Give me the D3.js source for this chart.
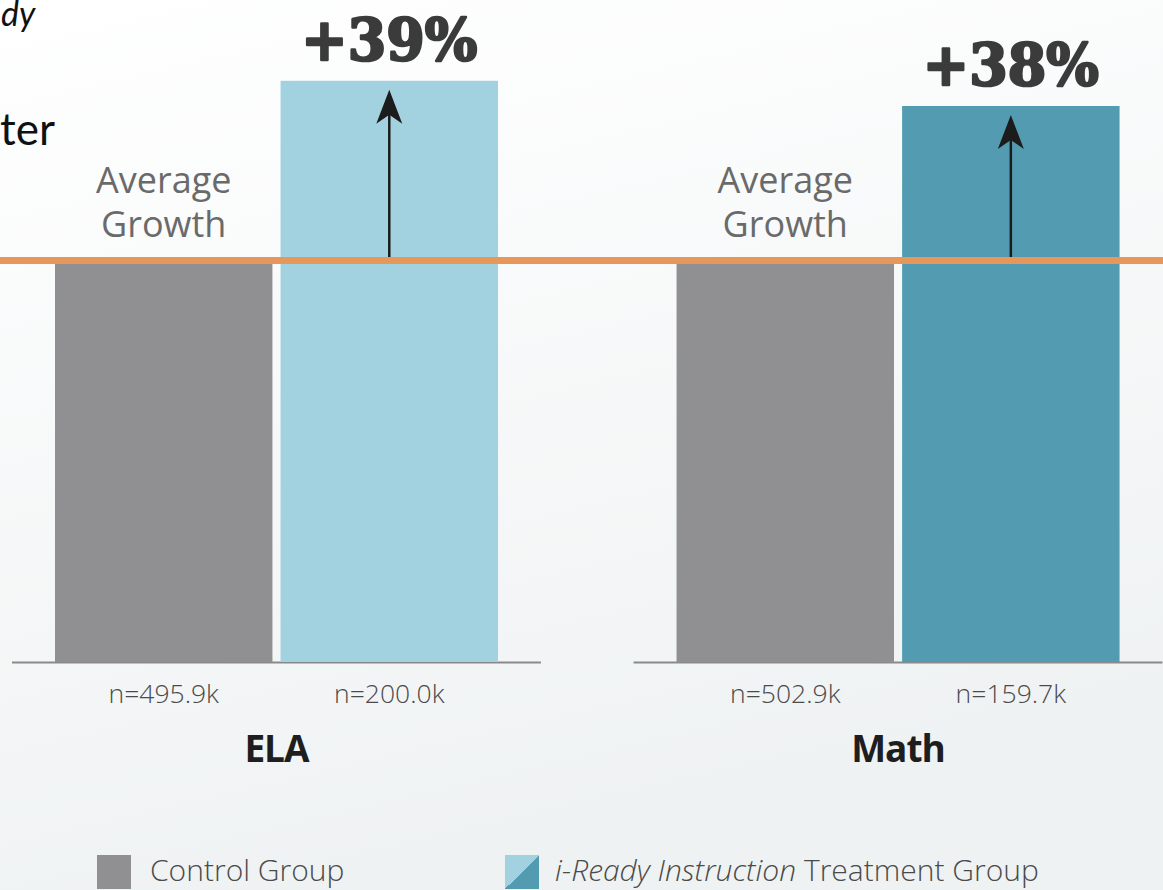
<!DOCTYPE html>
<html>
<head>
<meta charset="utf-8">
<script src="https://cdn.jsdelivr.net/npm/d3@7"></script>
<style>
  html, body { margin: 0; padding: 0; overflow: hidden; }
  body { width: 1163px; height: 890px; }
</style>
</head>
<body>
<div id="chart"></div>
<script>
const width = 1163;
const height = 890;

// data
const subjects = ['ELA', 'Math'];
const groups = ['Control Group', 'Treatment Group'];
const controlValues = [100, 100];       // average growth = 100
const treatmentValues = [145.3, 139];   // drawn bar heights
const growthLabels = ['+39%', '+38%'];
const controlN = ['n=495.9k', 'n=502.9k'];
const treatmentN = ['n=200.0k', 'n=159.7k'];
const avgLines = ['Average', 'Growth'];

const colors = {
    control: '#909092',
    ELA: '#a2d2e0',
    Math: '#539bb0',
    orange: '#e8975a'
};

const svg = d3
    .select('#chart')
    .append('svg')
    .attr('width', width)
    .attr('height', height);

// soft background gradient
const defs = svg.append('defs');
const bg = defs.append('linearGradient')
    .attr('id', 'bg')
    .attr('x1', 0).attr('y1', 0).attr('x2', 0.3).attr('y2', 1);
bg.append('stop').attr('offset', '0%').attr('stop-color', '#ffffff');
bg.append('stop').attr('offset', '100%').attr('stop-color', '#eff2f3');

const split = defs.append('linearGradient')
    .attr('id', 'split')
    .attr('x1', 0).attr('y1', 0).attr('x2', 1).attr('y2', 1);
split.append('stop').attr('offset', '50%').attr('stop-color', colors.ELA);
split.append('stop').attr('offset', '50%').attr('stop-color', colors.Math);

svg.append('rect')
    .attr('width', width)
    .attr('height', height)
    .attr('fill', 'url(#bg)');

const rows = subjects.map((s, i) => ({
    subject: s,
    bars: [
        { key: groups[0], value: controlValues[i], n: controlN[i], color: colors.control },
        { key: groups[1], value: treatmentValues[i], n: treatmentN[i], color: colors[s] }
    ],
    label: growthLabels[i]
}));

const baseY = 662;
const y = d3.scaleLinear()
    .domain([0, 150])
    .range([baseY, 62]);

const x0 = d3.scaleBand()
    .domain(subjects)
    .range([12, 12 + 621.5 + 529])
    .paddingInner(0.149)
    .paddingOuter(0);

const x1 = d3.scaleBand()
    .domain(groups)
    .range([43, 486])
    .paddingInner(0.036);

// title fragments visible in the top-left corner
svg.append('text')
    .attr('x', 1).attr('y', 26)
    .style('font-family', 'Lato, sans-serif')
    .style('font-style', 'italic')
    .style('font-size', '34px')
    .attr('fill', '#111')
    .text('dy');

svg.append('text')
    .attr('x', 0).attr('y', 145)
    .style('font-family', 'Lato, sans-serif')
    .style('font-size', '44px')
    .attr('fill', '#111')
    .text('ter');

const g = svg.selectAll('.subject')
    .data(rows)
    .join('g')
    .attr('class', 'subject')
    .attr('transform', d => 'translate(' + x0(d.subject) + ',0)');

// baseline
g.append('line')
    .attr('x1', 0)
    .attr('x2', x0.bandwidth())
    .attr('y1', baseY + 0.5)
    .attr('y2', baseY + 0.5)
    .attr('stroke', '#8a8a8c')
    .attr('stroke-width', 2);

g.selectAll('.bar')
    .data(d => d.bars)
    .join('rect')
    .attr('class', 'bar')
    .attr('x', d => x1(d.key))
    .attr('width', x1.bandwidth())
    .attr('y', d => y(d.value))
    .attr('height', d => y(0) - y(d.value))
    .attr('fill', d => d.color);

g.selectAll('.n')
    .data(d => d.bars)
    .join('text')
    .attr('class', 'n')
    .attr('x', d => x1(d.key) + x1.bandwidth() / 2)
    .attr('y', 703)
    .attr('text-anchor', 'middle')
    .style('font-family', '"Open Sans", sans-serif')
    .style('font-weight', 300)
    .style('font-size', '26.5px')
    .attr('fill', '#4a4a4a')
    .text(d => d.n);

g.append('text')
    .attr('x', x0.bandwidth() / 2)
    .attr('y', 762)
    .attr('text-anchor', 'middle')
    .style('font-family', '"Open Sans", sans-serif')
    .style('font-weight', 700)
    .style('font-size', '37px')
    .style('letter-spacing', '-1px')
    .attr('fill', '#1e1e1e')
    .text(d => d.subject);

// "Average Growth" above the control bar
g.selectAll('.avg')
    .data(avgLines)
    .join('text')
    .attr('class', 'avg')
    .attr('x', x1(groups[0]) + x1.bandwidth() / 2)
    .attr('y', (d, i) => 193 + i * 44)
    .attr('text-anchor', 'middle')
    .style('font-family', '"Open Sans", sans-serif')
    .style('font-size', '36px')
    .attr('fill', '#6a6a6a')
    .text(d => d);

// arrows
const ax = x1(groups[1]) + x1.bandwidth() / 2;
g.append('line')
    .attr('x1', ax).attr('x2', ax)
    .attr('y1', y(100))
    .attr('y2', d => y(d.bars[1].value) + 30)
    .attr('stroke', '#1c1c1c')
    .attr('stroke-width', 2.5);

g.append('path')
    .attr('d', d => {
        const tip = y(d.bars[1].value) + 9;
        return 'M' + ax + ',' + tip +
            'L' + (ax + 13) + ',' + (tip + 34) +
            'L' + ax + ',' + (tip + 25) +
            'L' + (ax - 13) + ',' + (tip + 34) + 'Z';
    })
    .attr('fill', '#1c1c1c');

g.append('text')
    .attr('x', ax)
    .attr('y', d => y(d.bars[1].value) - 21)
    .attr('text-anchor', 'middle')
    .attr('textLength', 176)
    .attr('lengthAdjust', 'spacingAndGlyphs')
    .style('font-family', '"DejaVu Serif", serif')
    .style('font-weight', 700)
    .style('font-size', '57px')
    .attr('fill', '#3b3b3b')
    .attr('stroke', '#3b3b3b')
    .attr('stroke-width', 2.5)
    .attr('stroke-linejoin', 'round')
    .text(d => d.label);

// orange average line
svg.append('line')
    .attr('x1', 0)
    .attr('x2', width)
    .attr('y1', y(100) - 1.5)
    .attr('y2', y(100) - 1.5)
    .attr('stroke', colors.orange)
    .attr('stroke-width', 7);

// legend
const legend = svg.append('g').attr('class', 'legend');
legend.append('rect')
    .attr('x', 97).attr('y', 855)
    .attr('width', 34).attr('height', 34)
    .attr('fill', colors.control);
legend.append('text')
    .attr('x', 150).attr('y', 881)
    .style('font-family', '"Open Sans", sans-serif')
    .style('font-weight', 300)
    .style('font-size', '30px')
    .attr('fill', '#4a4a4a')
    .text('Control Group');

legend.append('rect')
    .attr('x', 505).attr('y', 855)
    .attr('width', 34).attr('height', 34)
    .attr('fill', 'url(#split)');
const lt = legend.append('text')
    .attr('x', 555).attr('y', 881)
    .style('font-family', '"Open Sans", sans-serif')
    .style('font-weight', 300)
    .style('font-size', '30px')
    .attr('fill', '#4a4a4a');
lt.append('tspan').style('font-style', 'italic').text('i-Ready Instruction');
lt.append('tspan').text(' Treatment Group');
</script>
</body>
</html>
